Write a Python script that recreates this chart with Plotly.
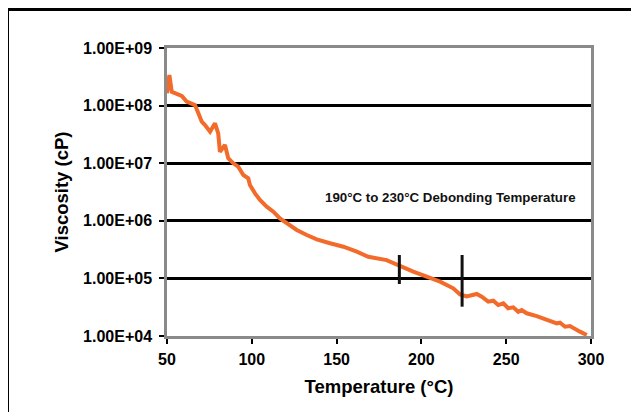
import plotly.graph_objects as go

# Data
temperature_c = [50.0, 50.6, 51.4, 52.8, 55.7, 58.7, 61.6, 66.5, 68.5, 70.5, 72.4, 75.4,
                 78.3, 80.2, 81.2, 84.2, 86.1, 89.1, 92.0, 95.0, 97.9, 98.9, 101.9, 104.8,
                 108.8, 112.7, 116.6, 120.6, 126.5, 132.4, 138.3, 146.1, 154.0, 161.9,
                 168.7, 179.5, 187.4, 195.2, 203.1, 211.0, 218.8, 222.8, 226.7, 232.6,
                 235.6, 239.4, 242.4, 245.3, 248.3, 251.2, 254.2, 257.1, 259.1, 262.1,
                 268.0, 273.9, 279.8, 281.7, 284.7, 287.6, 290.6, 293.5, 297.5]
viscosity_cp = [1.64e8, 2.78e8, 3.4e8, 1.74e8, 1.57e8, 1.47e8, 1.17e8, 1.02e8, 7.35e7, 5.25e7,
                4.6e7, 3.52e7, 4.93e7, 3.3e7, 1.58e7, 2.07e7, 1.22e7, 9.96e6, 8.7e6, 6.24e6,
                5.47e6, 4.19e6, 3.0e6, 2.3e6, 1.76e6, 1.44e6, 1.1e6, 9.05e5, 6.92e5, 5.66e5,
                4.77e5, 4.07e5, 3.55e5, 2.91e5, 2.38e5, 2.08e5, 1.64e5, 1.31e5, 1.07e5,
                8.77e4, 6.73e4, 5.25e4, 4.85e4, 5.36e4, 4.81e4, 3.94e4, 4.1e4, 3.45e4, 3.7e4,
                3.03e4, 3.15e4, 2.64e4, 2.83e4, 2.48e4, 2.22e4, 1.95e4, 1.66e4, 1.7e4,
                1.45e4, 1.49e4, 1.31e4, 1.19e4, 1.04e4]

# Debonding window markers (temperature, low/high viscosity)
marker_temps = [187, 224]
marker_low = [8.0e4, 3.23e4]
marker_high = [2.55e5, 2.55e5]

y_tickvals = [1e4, 1e5, 1e6, 1e7, 1e8, 1e9]
y_ticktext = ["1.00E+04", "1.00E+05", "1.00E+06", "1.00E+07", "1.00E+08", "1.00E+09"]
x_tickvals = [50, 100, 150, 200, 250, 300]

annotation_text = "190°C to 230°C Debonding Temperature"

FONT = "Liberation Sans, Arial, sans-serif"

fig = go.Figure()

fig.add_trace(go.Scatter(
    x=temperature_c, y=viscosity_cp, mode="lines",
    line=dict(color="#F26B2A", width=4),
    showlegend=False, hoverinfo="skip",
))

for t, lo, hi in zip(marker_temps, marker_low, marker_high):
    fig.add_trace(go.Scatter(
        x=[t, t], y=[lo, hi], mode="lines",
        line=dict(color="#111111", width=3),
        showlegend=False, hoverinfo="skip",
    ))

# The page body has an 8px margin, so the figure is laid out in page coords minus 8.
OFF = 8
W, H = 639 - OFF, 412 - OFF
L, R, T, B = 167 - OFF, 48, 48 - OFF, 76
pw, ph = W - L - R, H - T - B

def px_x(p):
    return (p - OFF - L) / pw

def px_y(p):
    return (H - B - (p - OFF)) / ph

fig.add_annotation(
    x=px_x(450.5), y=px_y(197), xref="paper", yref="paper",
    text=annotation_text, showarrow=False,
    font=dict(family=FONT, size=13.3, color="#111111", weight="bold"),
    xanchor="center", yanchor="middle",
)

# Outer frame around the chart
fig.add_shape(type="rect", xref="paper", yref="paper",
              x0=px_x(7.5), x1=px_x(636), y0=px_y(440), y1=px_y(9.5),
              line=dict(color="#000000", width=3), fillcolor="rgba(0,0,0,0)", layer="below")

fig.update_layout(
    width=W, height=H,
    margin=dict(l=L, r=R, t=T, b=B, pad=0, autoexpand=False),
    paper_bgcolor="white", plot_bgcolor="white",
    font=dict(family=FONT, color="#000000"),
)

fig.update_xaxes(
    range=[50, 300], tickvals=x_tickvals, automargin=False,
    showgrid=False, zeroline=False,
    showline=True, linecolor="#8a8a8a", linewidth=2.5, mirror=True,
    ticks="outside", ticklen=5, tickwidth=1.5, tickcolor="#000000",
    ticklabelstandoff=2,
    tickfont=dict(family=FONT, size=16, color="#000000", weight="bold"),
    title=dict(text="Temperature (°C)", standoff=14,
               font=dict(family=FONT, size=18.5, color="#000000", weight="bold")),
)

fig.update_yaxes(
    type="log", range=[4, 9], tickvals=y_tickvals, ticktext=y_ticktext, automargin=False,
    showgrid=True, gridcolor="#000000", gridwidth=2.5, zeroline=False,
    showline=True, linecolor="#8a8a8a", linewidth=2.5, mirror=True,
    ticks="outside", ticklen=5, tickwidth=1.5, tickcolor="#000000",
    ticklabelstandoff=4,
    tickfont=dict(family=FONT, size=16, color="#000000", weight="bold"),
    title=dict(text="Viscosity (cP)", standoff=10,
               font=dict(family=FONT, size=18.5, color="#000000", weight="bold")),
)

fig.write_html("out.html")
